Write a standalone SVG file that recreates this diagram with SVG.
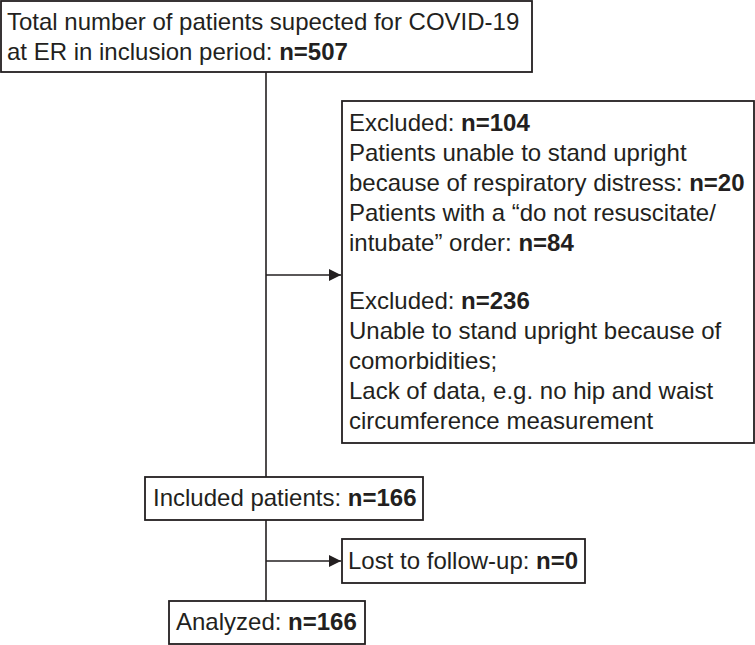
<svg xmlns="http://www.w3.org/2000/svg" width="755" height="645" viewBox="0 0 755 645">
<defs>
<style>
.box{fill:#fff;stroke:#231f20;stroke-width:1.8}
.t{font-family:"Liberation Sans",Arial,sans-serif;font-size:24px;fill:#231f20}
.b{font-weight:bold}
.c{stroke:#231f20;stroke-width:1.6;fill:none}
</style>
<marker id="ah" markerWidth="13" markerHeight="12" refX="12" refY="6" orient="auto" markerUnits="userSpaceOnUse">
<path d="M0,0 L12,6 L0,12 z" fill="#231f20"/>
</marker>
</defs>
<rect width="755" height="645" fill="#fff"/>
<g id="connectors">
<line class="c" x1="266" y1="72" x2="266" y2="477"/>
<line class="c" x1="266" y1="275" x2="341" y2="275" marker-end="url(#ah)"/>
<line class="c" x1="266" y1="520" x2="266" y2="601"/>
<line class="c" x1="266" y1="561" x2="341" y2="561" marker-end="url(#ah)"/>
</g>
<g id="total">
<rect class="box" x="1" y="1" width="531" height="71"/>
<text class="t" x="7" y="29.5">Total number of patients supected for COVID-19</text>
<text class="t" x="7" y="60">at ER in inclusion period: <tspan class="b">n=507</tspan></text>
</g>
<g id="excluded">
<rect class="box" x="342" y="101" width="412" height="342"/>
<text class="t" x="349" y="131">Excluded: <tspan class="b">n=104</tspan></text>
<text class="t" x="349" y="161">Patients unable to stand upright</text>
<text class="t" x="349" y="191">because of respiratory distress: <tspan class="b">n=20</tspan></text>
<text class="t" x="349" y="221">Patients with a “do not resuscitate/</text>
<text class="t" x="349" y="251">intubate” order: <tspan class="b">n=84</tspan></text>
<text class="t" x="349" y="309">Excluded: <tspan class="b">n=236</tspan></text>
<text class="t" x="349" y="339">Unable to stand upright because of</text>
<text class="t" x="349" y="369">comorbidities;</text>
<text class="t" x="349" y="399">Lack of data, e.g. no hip and waist</text>
<text class="t" x="349" y="429">circumference measurement</text>
</g>
<g id="included">
<rect class="box" x="145" y="477" width="278" height="43"/>
<text class="t" x="153" y="506">Included patients: <tspan class="b">n=166</tspan></text>
</g>
<g id="lost">
<rect class="box" x="342" y="539" width="243" height="44"/>
<text class="t" x="348" y="569">Lost to follow-up: <tspan class="b">n=0</tspan></text>
</g>
<g id="analyzed">
<rect class="box" x="169" y="601" width="196" height="43"/>
<text class="t" x="176" y="630">Analyzed: <tspan class="b">n=166</tspan></text>
</g>
</svg>
